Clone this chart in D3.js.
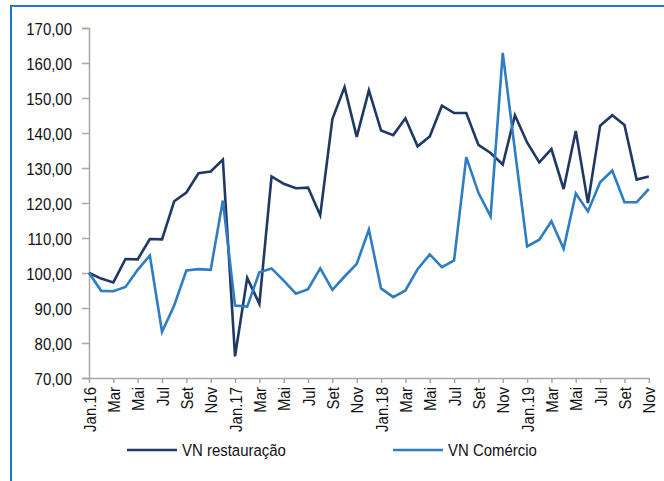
<!doctype html>
<html lang="pt">
<head>
<meta charset="utf-8">
<title>VN restauração e comércio</title>
<style>
  * { margin: 0; padding: 0; border: 0; }
  body { background: #fff; width: 664px; height: 481px; overflow: hidden; }
  svg text { font-family: "Liberation Sans", Arial, sans-serif; font-size: 17px; fill: #111; }
  .frame { stroke: #1f77c9; stroke-width: 2px; fill: none; }
  .axis path, .axis line { stroke: #a6a6a6; stroke-width: 1.5px; }
  .serie { fill: none; stroke-width: 2.6px; stroke-linejoin: miter; }
</style>
</head>
<body>
<div id="chart"></div>
<script src="https://d3js.org/d3.v7.min.js"></script>
<script>

  var nomes = ["Jan", "Fev", "Mar", "Abr", "Mai", "Jun", "Jul", "Ago", "Set", "Out", "Nov", "Dez"];
  var anos = ["16", "17", "18", "19"];

  // Jan.16 .. Nov.19
  var meses = [];
  anos.forEach(a => nomes.forEach((n, i) => meses.push(i == 0 ? n + "." + a : n)));
  meses = meses.slice(0, 47);

  var restauracao = [
    100.0, 98.4, 97.3, 104.0, 103.9, 109.7, 109.6, 120.5, 123.0, 128.5, 129.0, 132.4,
    76.2, 98.6, 91.2, 127.6, 125.5, 124.2, 124.4, 116.5, 144.0, 153.1, 138.9, 152.2,
    140.7, 139.4, 144.2, 136.2, 139.0, 147.8, 145.7, 145.7, 136.6, 134.3, 131.0, 145.1,
    137.3, 131.6, 135.4, 124.0, 140.6, 120.0, 142.1, 145.1, 142.3, 126.7, 127.6
  ];
  var comercio = [
    100.0, 94.9, 94.8, 96.0, 100.9, 105.0, 83.2, 90.7, 100.7, 101.1, 100.9, 120.7,
    90.7, 90.4, 100.2, 101.3, 97.8, 94.1, 95.4, 101.3, 95.2, 99.0, 102.6, 112.4,
    95.6, 93.1, 95.0, 101.1, 105.3, 101.7, 103.6, 133.1, 122.9, 116.2, 162.9, 135.0,
    107.6, 109.5, 114.8, 106.9, 122.7, 117.6, 125.9, 129.3, 120.2, 120.2, 124.0
  ];
  var yTicks = [70, 80, 90, 100, 110, 120, 130, 140, 150, 160, 170];

  var series = [
    { nome: "VN restauração", valores: restauracao, cor: "#1f3864" },
    { nome: "VN Comércio", valores: comercio, cor: "#2e7dc2" }
  ];

  var width = 664, height = 481;
  var sx = 0.88; // letra estreita, como no original
  var svg = d3.select("#chart").append("svg").attr("width", width).attr("height", height);

  // moldura (só se vê o lado esquerdo e o topo)
  svg.append("path").attr("class", "frame").attr("d", "M11,490 L11,6 L680,6");

  var idx = d3.range(meses.length);
  var x = d3.scalePoint().domain(idx).range([89, 648.8]);
  var y = d3.scaleLinear().domain([70, 170]).range([378, 28]);

  var fmt = d => d3.format(".2f")(d).replace(".", ",");

  var yAxis = svg.append("g").attr("class", "axis")
    .attr("transform", "translate(89,0)")
    .call(d3.axisLeft(y).tickValues(yTicks).tickFormat(fmt).tickSize(7).tickPadding(10));
  yAxis.selectAll("text")
    .attr("x", 0).attr("dy", "0.36em")
    .attr("transform", "translate(-17,0) scale(" + sx + ",1)");

  var xAxis = svg.append("g").attr("class", "axis")
    .attr("transform", "translate(0,378)")
    .call(d3.axisBottom(x).tickValues(idx.filter(i => i % 2 == 0))
      .tickFormat(i => meses[i]).tickSize(5).tickSizeOuter(0));
  xAxis.selectAll("text")
    .attr("transform", "rotate(-90) translate(-9,0) scale(" + sx + ",1)")
    .attr("text-anchor", "end")
    .attr("x", 0).attr("y", 0).attr("dy", "0.36em");

  var line = d3.line().x((d, i) => x(i)).y(d => y(d));

  svg.selectAll(".serie").data(series).enter().append("path")
    .attr("class", "serie")
    .style("stroke", d => d.cor)
    .attr("d", d => line(d.valores));

  // legenda
  var legX = [127, 393];
  var leg = svg.selectAll(".leg").data(series).enter().append("g")
    .attr("transform", (d, i) => "translate(" + legX[i] + ",450)");
  leg.append("line").attr("x1", 0).attr("x2", 50).attr("y1", 0).attr("y2", 0)
    .style("stroke", d => d.cor).style("stroke-width", 2.6);
  leg.append("text").attr("dy", "0.36em")
    .attr("transform", "translate(55,0) scale(" + sx + ",1)")
    .text(d => d.nome);

</script>
</body>
</html>
